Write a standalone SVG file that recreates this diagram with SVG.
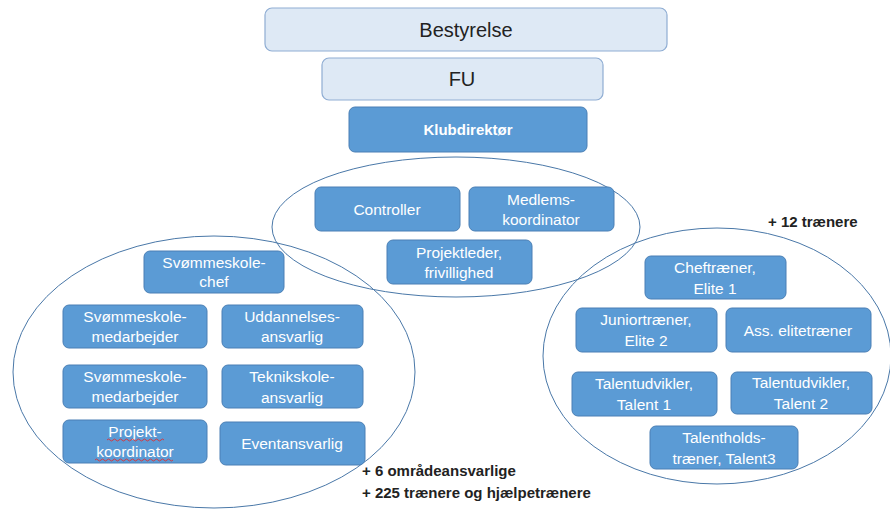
<svg xmlns="http://www.w3.org/2000/svg" width="890" height="510" viewBox="0 0 890 510">
<style>
.lt{fill:#dee9f5;stroke:#8fadd3;stroke-width:1.2}
.dk{fill:#5b9bd5;stroke:#4a7fb5;stroke-width:1}
.el{fill:none;stroke:#4a78a8;stroke-width:1}
text{font-family:"Liberation Sans",Arial,sans-serif;text-anchor:middle}
.w{fill:#fff;font-size:15.5px}
.b{fill:#222;font-size:20px}
.note{fill:#222;font-size:15px;font-weight:bold;text-anchor:start}
.sq{fill:none;stroke:#e03030;stroke-width:0.9}
</style>
<rect width="890" height="510" fill="#fff"/>
<g id="ellipses">
<ellipse class="el" cx="456" cy="227" rx="184" ry="70"/>
<ellipse class="el" cx="214" cy="372" rx="201" ry="136"/>
<ellipse class="el" cx="717" cy="356" rx="174" ry="128"/>
</g>
<g id="bestyrelse"><rect class="lt" x="265" y="8" width="402" height="43" rx="7"/><text class="b" x="466" y="37">Bestyrelse</text></g>
<g id="fu"><rect class="lt" x="322" y="58" width="281" height="42" rx="7"/><text class="b" x="462" y="86">FU</text></g>
<g id="klubdirektor"><rect class="dk" x="349" y="107" width="238" height="45" rx="6"/><text class="w" x="468" y="135" style="font-weight:bold;font-size:15px">Klubdirektør</text></g>

<g id="controller"><rect class="dk" x="315" y="187" width="145" height="44" rx="6"/><text class="w" x="387" y="215">Controller</text></g>
<g id="medlemskoordinator"><rect class="dk" x="469" y="187" width="145" height="44" rx="6"/><text class="w" x="541" y="205">Medlems-</text><text class="w" x="541" y="225">koordinator</text></g>
<g id="projektleder"><rect class="dk" x="387" y="240" width="145" height="44" rx="6"/><text class="w" x="459" y="258">Projektleder,</text><text class="w" x="459" y="278">frivillighed</text></g>

<g id="svommeskolechef"><rect class="dk" x="144" y="251" width="140" height="42" rx="6"/><text class="w" x="214" y="268">Svømmeskole-</text><text class="w" x="214" y="287">chef</text></g>
<g id="medarbejder1"><rect class="dk" x="63" y="305" width="144" height="43" rx="6"/><text class="w" x="135" y="322">Svømmeskole-</text><text class="w" x="135" y="342">medarbejder</text></g>
<g id="uddannelsesansvarlig"><rect class="dk" x="222" y="305" width="141" height="43" rx="6"/><text class="w" x="292" y="322">Uddannelses-</text><text class="w" x="292" y="342">ansvarlig</text></g>
<g id="medarbejder2"><rect class="dk" x="63" y="365" width="144" height="43" rx="6"/><text class="w" x="135" y="382">Svømmeskole-</text><text class="w" x="135" y="402">medarbejder</text></g>
<g id="teknikskoleansvarlig"><rect class="dk" x="222" y="365" width="141" height="43" rx="6"/><text class="w" x="292" y="382">Teknikskole-</text><text class="w" x="292" y="403">ansvarlig</text></g>
<g id="projektkoordinator"><rect class="dk" x="63" y="420" width="144" height="43" rx="6"/><text class="w" x="135" y="437">Projekt-</text><text class="w" x="135" y="457">koordinator</text>
<path class="sq" d="M107 440 q1.5 -2 3 0 t3 0 t3 0 t3 0 t3 0 t3 0 t3 0 t3 0 t3 0 t3 0 t3 0 t3 0 t3 0 t3 0 t3 0 t3 0 t3 0 t3 0 t3 0"/>
<path class="sq" d="M95 460 q1.5 -2 3 0 t3 0 t3 0 t3 0 t3 0 t3 0 t3 0 t3 0 t3 0 t3 0 t3 0 t3 0 t3 0 t3 0 t3 0 t3 0 t3 0 t3 0 t3 0 t3 0 t3 0 t3 0 t3 0 t3 0 t3 0 t3 0"/></g>
<g id="eventansvarlig"><rect class="dk" x="220" y="422" width="145" height="43" rx="6"/><text class="w" x="292" y="449">Eventansvarlig</text></g>

<g id="cheftraener"><rect class="dk" x="645" y="256" width="141" height="43" rx="6"/><text class="w" x="715" y="273">Cheftræner,</text><text class="w" x="715" y="294">Elite 1</text></g>
<g id="juniortraener"><rect class="dk" x="576" y="308" width="141" height="44" rx="6"/><text class="w" x="646" y="325">Juniortræner,</text><text class="w" x="646" y="346">Elite 2</text></g>
<g id="asselitetraener"><rect class="dk" x="726" y="308" width="145" height="44" rx="6"/><text class="w" x="798" y="336">Ass. elitetræner</text></g>
<g id="talentudvikler1"><rect class="dk" x="572" y="372" width="145" height="44" rx="6"/><text class="w" x="644" y="389">Talentudvikler,</text><text class="w" x="644" y="410">Talent 1</text></g>
<g id="talentudvikler2"><rect class="dk" x="731" y="372" width="141" height="42" rx="6"/><text class="w" x="801" y="388">Talentudvikler,</text><text class="w" x="801" y="409">Talent 2</text></g>
<g id="talentholdstraener"><rect class="dk" x="650" y="426" width="148" height="43" rx="6"/><text class="w" x="724" y="443">Talentholds-</text><text class="w" x="724" y="464">træner, Talent3</text></g>

<g id="notes">
<text class="note" x="768" y="227">+ 12 trænere</text>
<text class="note" x="362" y="476">+ 6 områdeansvarlige</text>
<text class="note" x="362" y="498">+ 225 trænere og hjælpetrænere</text>
</g>
<g id="connectors"></g>
</svg>
